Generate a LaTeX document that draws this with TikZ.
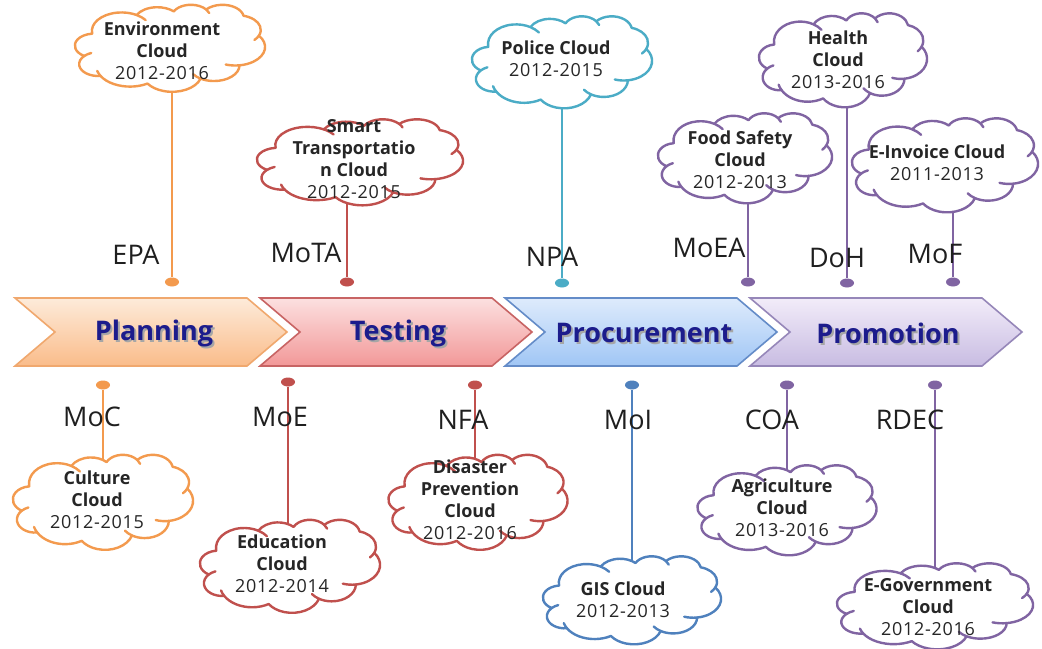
\documentclass[tikz,border=0pt]{standalone}
\usepackage{fontspec}
\setmainfont{Open Sans}
\usetikzlibrary{shapes.geometric}
\definecolor{cOr}{HTML}{F39A4E}
\definecolor{cRd}{HTML}{C0504D}
\definecolor{cTl}{HTML}{4BACC6}
\definecolor{cBl}{HTML}{4F81BD}
\definecolor{cPu}{HTML}{8064A2}
\definecolor{navy}{RGB}{28,28,140}
\definecolor{plTop}{RGB}{253,235,218}
\definecolor{plBot}{RGB}{250,188,138}
\definecolor{plBrd}{RGB}{240,168,110}
\definecolor{teTop}{RGB}{252,224,224}
\definecolor{teBot}{RGB}{242,152,152}
\definecolor{teBrd}{RGB}{200,100,100}
\definecolor{prTop}{RGB}{222,235,252}
\definecolor{prBot}{RGB}{160,198,245}
\definecolor{prBrd}{RGB}{100,140,200}
\definecolor{poTop}{RGB}{242,236,249}
\definecolor{poBot}{RGB}{200,188,226}
\definecolor{poBrd}{RGB}{150,135,185}
\newcommand\yrs[1]{{\addfontfeature{LetterSpace=4}#1}}
% elliptic arc with visual start angle #3 and sweep #4 (DrawingML style)
\newcommand\oarc[4]{arc[x radius=#1, y radius=#2,
  start angle={atan2(#1*sin(#3),#2*cos(#3))},
  delta angle={mod(atan2(#1*sin(#3+#4),#2*cos(#3+#4))-atan2(#1*sin(#3),#2*cos(#3))+720,360)}]}
% cloud outline: name, centre x, centre y, width, height, colour
\newcommand\ocloud[6]{%
\begin{scope}[shift={({#2-#4/2},{#3-#5/2})}, xscale=#4/100, yscale=#5/100]
\draw[cloudline=#6] (9.028,33.264)
  \oarc{15.632}{21.273}{-190.4875}{123.7805} coordinate (#1j1)
  \oarc{12.345}{16.822}{-144.1024}{89.9452} coordinate (#1j2)
  \oarc{10.104}{13.762}{-145.8079}{99.7230} coordinate (#1j3)
  \oarc{11.243}{15.266}{-130.9861}{117.2417} coordinate (#1j4)
  \oarc{12.345}{16.836}{-78.7089}{109.0269} coordinate (#1j5)
  \oarc{15.683}{21.343}{-46.2673}{130.269} coordinate (#1j6)
  \oarc{13.391}{18.211}{0.625}{114.033} coordinate (#1j7)
  \oarc{15.630}{21.331}{22.4516}{115.1726} coordinate (#1j8)
  \oarc{17.870}{24.405}{66.2426}{75.7110} coordinate (#1j9)
  \oarc{10.093}{13.699}{-274.942}{146.7356} coordinate (#1j10)
  \oarc{10.058}{13.762}{-246.8285}{152.5189} -- cycle;
\draw[innerarc=#6] (#1j1) \oarc{15.632}{21.273}{-66.707}{22};
\draw[innerarc=#6] (#1j3) \oarc{10.104}{13.762}{-46.0849}{22};
\draw[innerarc=#6] (#1j5) \oarc{12.345}{16.836}{30.318}{22};
\draw[innerarc=#6] (#1j6) \oarc{15.683}{21.343}{84.0017}{20};
\draw[innerarc=#6] (#1j7) \oarc{13.391}{18.211}{114.658}{22};
\draw[innerarc=#6] (#1j9) \oarc{17.870}{24.405}{141.9536}{18};
\draw[innerarc=#6] (#1j10) \oarc{10.093}{13.699}{-128.2064}{22};
\end{scope}}
\tikzset{
  cloudline/.style={draw=#1, fill=white, line width=1.2pt, line join=round},
  innerarc/.style={draw=#1, line width=1.2pt, line cap=round},
  ctext/.style={align=center, font=\fontsize{9}{11}\selectfont, text=black!85, inner sep=0pt},
  agency/.style={font=\fontsize{13.5}{15}\selectfont, text=black!88, inner sep=0pt},
  dotmark/.style={ellipse, fill=#1, minimum width=7pt, minimum height=4.5pt, inner sep=0pt},
  conn/.style={draw=#1, line width=1.4pt},
  stagetext/.style={font=\fontsize{13.5}{15}\selectfont\bfseries, text=navy, inner sep=0pt},
  stageshadow/.style={font=\fontsize{13.5}{15}\selectfont\bfseries, text=black!35, inner sep=0pt},
}
\begin{document}
\begin{tikzpicture}[x=0.5pt,y=-0.5pt]
\useasboundingbox (0,0) rectangle (1042,648);
\fill[white] (0,0) rectangle (1042,648);

% ---------- chevrons ----------
\draw[draw=plBrd, line width=0.8pt, top color=plTop, bottom color=plBot]
  (15,298) -- ++(232,0) -- ++(40,34) -- ++(-40,34) -- ++(-232,0) -- ++(40,-34) -- cycle;
\draw[draw=teBrd, line width=0.8pt, top color=teTop, bottom color=teBot]
  (260,298) -- ++(232,0) -- ++(40,34) -- ++(-40,34) -- ++(-232,0) -- ++(40,-34) -- cycle;
\draw[draw=prBrd, line width=0.8pt, top color=prTop, bottom color=prBot]
  (505,298) -- ++(232,0) -- ++(40,34) -- ++(-40,34) -- ++(-232,0) -- ++(40,-34) -- cycle;
\draw[draw=poBrd, line width=0.8pt, top color=poTop, bottom color=poBot]
  (750,298) -- ++(232,0) -- ++(40,34) -- ++(-40,34) -- ++(-232,0) -- ++(40,-34) -- cycle;

\node[stageshadow] (s1s) at (156,335) {Planning};
\node[stagetext] (s1) at (154,333) {Planning};
\node[stageshadow] (s2s) at (400,335) {Testing};
\node[stagetext] (s2) at (398,333) {Testing};
\node[stageshadow] (s3s) at (646,335) {Procurement};
\node[stagetext] (s3) at (644,333) {Procurement};
\node[stageshadow] (s4s) at (890,335) {Promotion};
\node[stagetext] (s4) at (888,333) {Promotion};

% ---------- top clouds ----------
\coordinate (c1) at (170,48);
\node[dotmark=cOr] (d1) at (172,282) {};
\draw[conn=cOr] (c1 -| d1) -- (d1);
\ocloud{c1}{170}{48}{190}{87}{cOr}
\node[ctext] (t1) at (162,51) {\textbf{Environment}\\\textbf{Cloud}\\\yrs{2012-2016}};
\node[agency] (a1) at (136,255) {EPA};

\coordinate (c2) at (360,162);
\node[dotmark=cRd] (d2) at (347,282) {};
\draw[conn=cRd] (c2 -| d2) -- (d2);
\ocloud{c2}{360}{162}{206}{86}{cRd}
\node[ctext] (t2) at (354,159) {\textbf{Smart}\\\textbf{Transportatio}\\\textbf{n Cloud}\\\yrs{2012-2015}};
\node[agency] (a2) at (306,253) {MoTA};

\coordinate (c3) at (562,62);
\node[dotmark=cTl] (d3) at (562,283) {};
\draw[conn=cTl] (c3 -| d3) -- (d3);
\ocloud{c3}{562}{62}{180}{92}{cTl}
\node[ctext] (t3) at (556,59) {\textbf{Police Cloud}\\\yrs{2012-2015}};
\node[agency] (a3) at (552,257) {NPA};

\coordinate (c4) at (745,158);
\node[dotmark=cPu] (d4) at (748,282) {};
\draw[conn=cPu] (c4 -| d4) -- (d4);
\ocloud{c4}{745}{158}{174}{90}{cPu}
\node[ctext] (t4) at (740,160) {\textbf{Food Safety}\\\textbf{Cloud}\\\yrs{2012-2013}};
\node[agency] (a4) at (709,248) {MoEA};

\coordinate (c5) at (843,60);
\node[dotmark=cPu] (d5) at (847,283) {};
\draw[conn=cPu] (c5 -| d5) -- (d5);
\ocloud{c5}{843}{60}{168}{94}{cPu}
\node[ctext] (t5) at (838,60) {\textbf{Health}\\\textbf{Cloud}\\\yrs{2013-2016}};
\node[agency] (a5) at (837,258) {DoH};

\coordinate (c6) at (945,165);
\node[dotmark=cPu] (d6) at (953,282) {};
\draw[conn=cPu] (c6 -| d6) -- (d6);
\ocloud{c6}{945}{165}{186}{94}{cPu}
\node[ctext] (t6) at (937,163) {\textbf{E-Invoice Cloud}\\\yrs{2011-2013}};
\node[agency] (a6) at (935,254) {MoF};

% ---------- bottom clouds ----------
\coordinate (c7) at (103,502);
\node[dotmark=cOr] (d7) at (103,385) {};
\draw[conn=cOr] (d7) -- (c7 -| d7);
\ocloud{c7}{103}{502}{180}{95}{cOr}
\node[ctext] (t7) at (97,500) {\textbf{Culture}\\\textbf{Cloud}\\\yrs{2012-2015}};
\node[agency] (a7) at (92,417) {MoC};

\coordinate (c8) at (290,566);
\node[dotmark=cRd] (d8) at (288,382) {};
\draw[conn=cRd] (d8) -- (c8 -| d8);
\ocloud{c8}{290}{566}{180}{93}{cRd}
\node[ctext] (t8) at (282,564) {\textbf{Education}\\\textbf{Cloud}\\\yrs{2012-2014}};
\node[agency] (a8) at (280,417) {MoE};

\coordinate (c9) at (478,502);
\node[dotmark=cRd] (d9) at (475,385) {};
\draw[conn=cRd] (d9) -- (c9 -| d9);
\ocloud{c9}{478}{502}{179}{95}{cRd}
\node[ctext] (t9) at (470,500) {\textbf{Disaster}\\\textbf{Prevention}\\\textbf{Cloud}\\\yrs{2012-2016}};
\node[agency] (a9) at (463,420) {NFA};

\coordinate (c10) at (632,600);
\node[dotmark=cBl] (d10) at (632,385) {};
\draw[conn=cBl] (d10) -- (c10 -| d10);
\ocloud{c10}{632}{600}{178}{88}{cBl}
\node[ctext] (t10) at (623,600) {\textbf{GIS Cloud}\\\yrs{2012-2013}};
\node[agency] (a10) at (628,420) {MoI};

\coordinate (c11) at (787,510);
\node[dotmark=cPu] (d11) at (787,385) {};
\draw[conn=cPu] (d11) -- (c11 -| d11);
\ocloud{c11}{787}{510}{179}{90}{cPu}
\node[ctext] (t11) at (782,508) {\textbf{Agriculture}\\\textbf{Cloud}\\\yrs{2013-2016}};
\node[agency] (a11) at (772,420) {COA};

\coordinate (c12) at (935,606);
\node[dotmark=cPu] (d12) at (935,385) {};
\draw[conn=cPu] (d12) -- (c12 -| d12);
\ocloud{c12}{935}{606}{196}{86}{cPu}
\node[ctext] (t12) at (928,607) {\textbf{E-Government}\\\textbf{Cloud}\\\yrs{2012-2016}};
\node[agency] (a12) at (910,420) {RDEC};
\end{tikzpicture}
\end{document}
